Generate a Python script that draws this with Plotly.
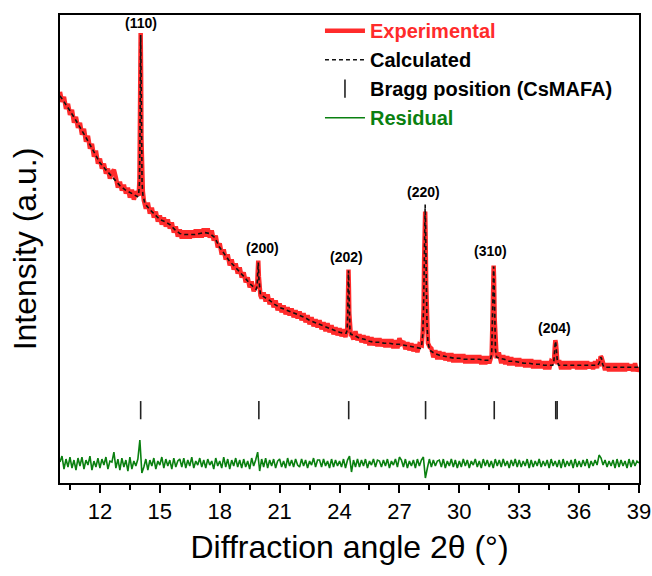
import numpy as np
import plotly.graph_objects as go

# ---------------- data (intensity in arbitrary units) ----------------
grid_start, grid_step = 10.0, 0.1   # experimental / residual sampling grid (10.0 .. 39.0)

exp_base = [
    392, 382, 387, 375, 380, 369, 374, 361, 367, 356,   # 10.x
    361, 349, 355, 342, 348, 335, 340, 327, 333, 320,   # 11.x
    325, 315, 320, 310, 315, 305, 311, 314, 306, 296,   # 12.x
    302, 293, 299, 290, 296, 286, 294, 284, 292, 283,   # 13.x
    286, 283, 283, 275, 281, 270, 276, 266, 272, 262,   # 14.x
    268, 259, 266, 257, 264, 255, 261, 251, 257, 247,   # 15.x
    254, 245, 253, 245, 253, 245, 253, 246, 254, 246,   # 16.x
    254, 246, 255, 247, 255, 246, 253, 243, 248, 236,   # 17.x
    240, 229, 234, 224, 229, 218, 224, 214, 220, 210,   # 18.x
    216, 206, 211, 201, 206, 196, 202, 192, 198, 192,   # 19.x
    193, 185, 191, 182, 189, 179, 185, 176, 183, 173,   # 20.x
    180, 171, 178, 169, 176, 168, 175, 166, 173, 165,   # 21.x
    172, 163, 170, 161, 168, 159, 166, 157, 164, 156,   # 22.x
    163, 154, 161, 152, 160, 151, 158, 149, 156, 148,   # 23.x
    155, 147, 154, 146, 154, 149, 149, 144, 152, 143,   # 24.x
    149, 141, 148, 140, 147, 138, 146, 138, 145, 137,   # 25.x
    145, 137, 144, 136, 144, 136, 144, 135, 143, 135,   # 26.x
    145, 140, 142, 134, 141, 133, 140, 132, 139, 131,   # 27.x
    139, 135, 150, 150, 145, 132, 135, 126, 133, 124,   # 28.x
    132, 124, 131, 123, 130, 122, 130, 121, 129, 121,   # 29.x
    129, 121, 129, 120, 128, 120, 128, 120, 128, 120,   # 30.x
    128, 119, 127, 119, 127, 120, 126, 130, 130, 129,   # 31.x
    129, 120, 128, 119, 127, 118, 126, 118, 125, 117,   # 32.x
    125, 117, 124, 116, 124, 116, 124, 115, 123, 115,   # 33.x
    123, 115, 122, 114, 122, 114, 122, 121, 130, 125,   # 34.x
    123, 114, 122, 114, 122, 114, 122, 115, 122, 114,   # 35.x
    122, 114, 122, 114, 122, 115, 121, 114, 122, 115,   # 36.x
    123, 126, 121, 113, 120, 112, 120, 112, 120, 112,   # 37.x
    120, 112, 120, 112, 120, 113, 119, 112, 120, 112,   # 38.x
    116,                                                # 39.0
]

calc_step = 0.25   # calculated-profile background sampling (10.0 .. 39.0)
calc_base = [
    388, 381, 373, 365, 357, 348, 339, 330,   # 10.00 - 11.75
    321, 315, 309, 304, 298, 294, 291, 288,   # 12.00 - 13.75
    286, 280, 274, 269, 264, 262, 259, 254,   # 14.00 - 15.75
    250, 249, 249, 249, 250, 251, 250, 246,   # 16.00 - 17.75
    236, 229, 222, 217, 212, 206, 200, 195,   # 18.00 - 19.75
    191, 186, 183, 179, 176, 174, 172, 170,   # 20.00 - 21.75
    168, 166, 163, 161, 159, 157, 155, 153,   # 22.00 - 23.75
    151, 150, 149, 148, 145, 144, 142, 141,   # 24.00 - 25.75
    141, 140, 140, 139, 139, 138, 137, 136,   # 26.00 - 27.75
    135, 133, 131, 130, 128, 127, 126, 125,   # 28.00 - 29.75
    125, 124, 124, 124, 124, 123, 123, 124,   # 30.00 - 31.75
    125, 124, 122, 122, 121, 120, 120, 119,   # 32.00 - 33.75
    119, 118, 118, 119, 118, 118, 118, 118,   # 34.00 - 35.75
    118, 118, 118, 118, 119, 117, 116, 116,   # 36.00 - 37.75
    116, 116, 116, 116, 116,                  # 38.00 - 39.00
]

# Reflection profiles (2θ, intensity)
peaks_x = {
    "110": [13.88, 13.94, 13.98, 14.00, 14.02, 14.04, 14.06, 14.08, 14.11, 14.15, 14.20],
    "200": [19.82, 19.87, 19.90, 19.93, 19.96, 19.99, 20.04],
    "202": [24.33, 24.38, 24.41, 24.43, 24.45, 24.47, 24.49, 24.52, 24.57],
    "220": [28.05, 28.12, 28.17, 28.21, 28.24, 28.27, 28.29, 28.31, 28.34, 28.38, 28.43, 28.52],
    "310": [31.55, 31.62, 31.66, 31.69, 31.72, 31.74, 31.77, 31.81, 31.87],
    "204": [34.68, 34.74, 34.78, 34.81, 34.84, 34.87, 34.91, 34.97],
    "37":  [36.94, 37.02, 37.08, 37.12, 37.18, 37.25],
}
peaks_exp = {
    "110": [290, 288, 304, 335, 405, 451, 412, 345, 303, 292, 283],
    "200": [197, 195, 210, 223, 207, 197, 188],
    "202": [152, 151, 170, 195, 214, 196, 170, 157, 147],
    "220": [138, 138, 152, 175, 225, 265, 272, 250, 200, 162, 140, 136],
    "310": [126, 128, 162, 205, 218, 205, 165, 137, 125],
    "204": [121, 122, 136, 143, 140, 133, 121, 121],
    "37":  [121, 120, 127, 126, 122, 114],
}
peaks_calc = {
    "110": [287, 290, 300, 333, 403, 449, 410, 343, 301, 289, 284],
    "200": [194, 197, 207, 221, 205, 194, 189],
    "202": [150, 153, 167, 194, 213, 195, 169, 154, 149],
    "220": [135, 139, 149, 176, 228, 272, 279, 255, 202, 160, 141, 133],
    "310": [123, 129, 159, 204, 217, 204, 164, 134, 126],
    "204": [118, 123, 133, 142, 139, 130, 122, 118],
    "37":  [118, 121, 126, 125, 119, 116],
}

residual = [
    21, 27, 14, 24, 16, 26, 15, 23, 13, 25,   # 10.x
    17, 26, 14, 23, 18, 27, 13, 22, 16, 25,   # 11.x
    15, 24, 18, 26, 14, 22, 21, 31, 15, 24,   # 12.x
    13, 25, 16, 23, 12, 26, 14, 22, 17, 24,   # 13.x
    43, 10, 16, 24, 13, 23, 17, 25, 14, 22,   # 14.x
    18, 26, 15, 24, 17, 23, 14, 25, 16, 22,   # 15.x
    24, 16, 25, 15, 23, 17, 26, 15, 22, 18,   # 16.x
    25, 16, 23, 15, 24, 18, 22, 14, 25, 17,   # 17.x
    22, 15, 26, 16, 24, 14, 23, 17, 25, 16,   # 18.x
    23, 15, 24, 16, 22, 14, 25, 17, 23, 31,   # 19.x
    12, 24, 16, 25, 15, 23, 17, 24, 15, 22,   # 20.x
    24, 16, 22, 15, 25, 17, 23, 16, 24, 18,   # 21.x
    16, 24, 17, 23, 15, 22, 18, 25, 16, 23,   # 22.x
    23, 16, 24, 17, 22, 15, 24, 16, 23, 17,   # 23.x
    22, 16, 24, 15, 23, 27, 11, 23, 16, 24,   # 24.x
    16, 23, 17, 24, 15, 22, 18, 24, 16, 23,   # 25.x
    22, 16, 23, 17, 24, 15, 22, 18, 24, 16,   # 26.x
    26, 23, 16, 24, 15, 22, 17, 23, 15, 24,   # 27.x
    17, 23, 26, 5, 15, 24, 16, 23, 17, 22,    # 28.x
    23, 16, 24, 15, 22, 17, 24, 16, 23, 15,   # 29.x
    22, 16, 24, 17, 23, 15, 22, 18, 24, 16,   # 30.x
    22, 15, 24, 17, 23, 16, 22, 15, 24, 17,   # 31.x
    23, 16, 24, 17, 22, 15, 23, 17, 24, 16,   # 32.x
    23, 16, 22, 17, 24, 15, 23, 16, 22, 17,   # 33.x
    24, 16, 22, 17, 23, 15, 24, 17, 22, 16,   # 34.x
    23, 15, 24, 16, 22, 17, 23, 15, 24, 16,   # 35.x
    22, 16, 23, 17, 24, 15, 22, 17, 23, 18,   # 36.x
    28, 25, 18, 23, 16, 22, 17, 23, 15, 24,   # 37.x
    16, 23, 17, 22, 15, 24, 16, 23, 17, 22,   # 38.x
    20,                                       # 39.0
]

bragg_pos = [14.04, 19.96, 24.46, 28.31, 31.75, 34.83, 34.90]
bragg_level = 73

peak_labels = ["(110)", "(200)", "(202)", "(220)", "(310)", "(204)"]
label_x = [14.06, 20.12, 24.37, 28.23, 31.58, 34.79]
label_y = [461, 236, 226, 292, 232, 155]

x_ticks = [12, 15, 18, 21, 24, 27, 30, 33, 36, 39]

# ---------------- assemble profiles ----------------
def merge(base_x, base_y, px, py):
    bx = np.round(np.asarray(base_x, float), 3)
    by = np.asarray(base_y, float)
    keep = np.ones(len(bx), bool)
    for k in px:
        lo, hi = min(px[k]) - 1e-6, max(px[k]) + 1e-6
        keep &= ~((bx >= lo) & (bx <= hi))
    xs = np.concatenate([bx[keep]] + [np.asarray(px[k], float) for k in px])
    ys = np.concatenate([by[keep]] + [np.asarray(py[k], float) for k in py])
    order = np.argsort(xs)
    return xs[order], ys[order]

exp_grid = grid_start + grid_step * np.arange(len(exp_base))
calc_grid = grid_start + calc_step * np.arange(len(calc_base))
res_grid = grid_start + grid_step * np.arange(len(residual))

ex, ey = merge(exp_grid, exp_base, peaks_x, peaks_exp)
cx, cy = merge(calc_grid, calc_base, peaks_x, peaks_calc)

FONT = "Arial, Liberation Sans, sans-serif"
RED = "#ff2b2b"
GREEN = "#0a8010"

fig = go.Figure()
fig.add_trace(go.Scatter(
    x=ex, y=ey, mode="lines", line=dict(color=RED, width=4.5),
    name="<b><span style='color:#ff2b2b'>Experimental</span></b>"))
fig.add_trace(go.Scatter(
    x=cx, y=cy, mode="lines", line=dict(color="#111111", width=1.6, dash="4px,3px"),
    name="<b>Calculated</b>"))
fig.add_trace(go.Scatter(
    x=bragg_pos, y=[bragg_level] * len(bragg_pos), mode="markers",
    marker=dict(symbol="line-ns", size=13, line=dict(color="#222222", width=1.6)),
    name="<b>Bragg position (CsMAFA)</b>"))
fig.add_trace(go.Scatter(
    x=res_grid, y=residual, mode="lines", line=dict(color=GREEN, width=1.6),
    name="<b><span style='color:#0a8010'>Residual</span></b>"))

for t, xx, yy in zip(peak_labels, label_x, label_y):
    fig.add_annotation(x=xx, y=yy, text=f"<b>{t}</b>", showarrow=False,
                       font=dict(family=FONT, size=14, color="black"))

fig.update_layout(
    width=652, height=576,
    margin=dict(l=60, r=13, t=14, b=93),
    plot_bgcolor="white", paper_bgcolor="white",
    font=dict(family=FONT, color="black"),
    showlegend=True,
    legend=dict(x=0.449, y=1.006, xanchor="left", yanchor="top",
                bgcolor="rgba(0,0,0,0)", font=dict(family=FONT, size=20),
                tracegroupgap=0, itemwidth=40),
    xaxis=dict(range=[10, 39], tickvals=x_ticks, ticks="outside", ticklen=8, tickwidth=1.5,
               tickcolor="black", showline=True, linecolor="black", linewidth=1.5,
               mirror=True, showgrid=False, zeroline=False, automargin=False,
               tickfont=dict(family=FONT, size=22),
               minor=dict(tick0=10.5, dtick=1.5, ticks="outside", ticklen=5, tickwidth=1.5,
                          tickcolor="black"),
               title=dict(text="Diffraction angle 2θ (°)", font=dict(family=FONT, size=32),
                          standoff=12)),
    yaxis=dict(range=[0, 469], showticklabels=False, ticks="", showline=True,
               linecolor="black", linewidth=1.5, mirror=True, showgrid=False,
               zeroline=False, automargin=False,
               title=dict(text="Intensity (a.u.)", font=dict(family=FONT, size=32),
                          standoff=12)),
)

fig.write_html("out.html", config={"displayModeBar": False},
               post_script="document.body.style.margin='0px';")
